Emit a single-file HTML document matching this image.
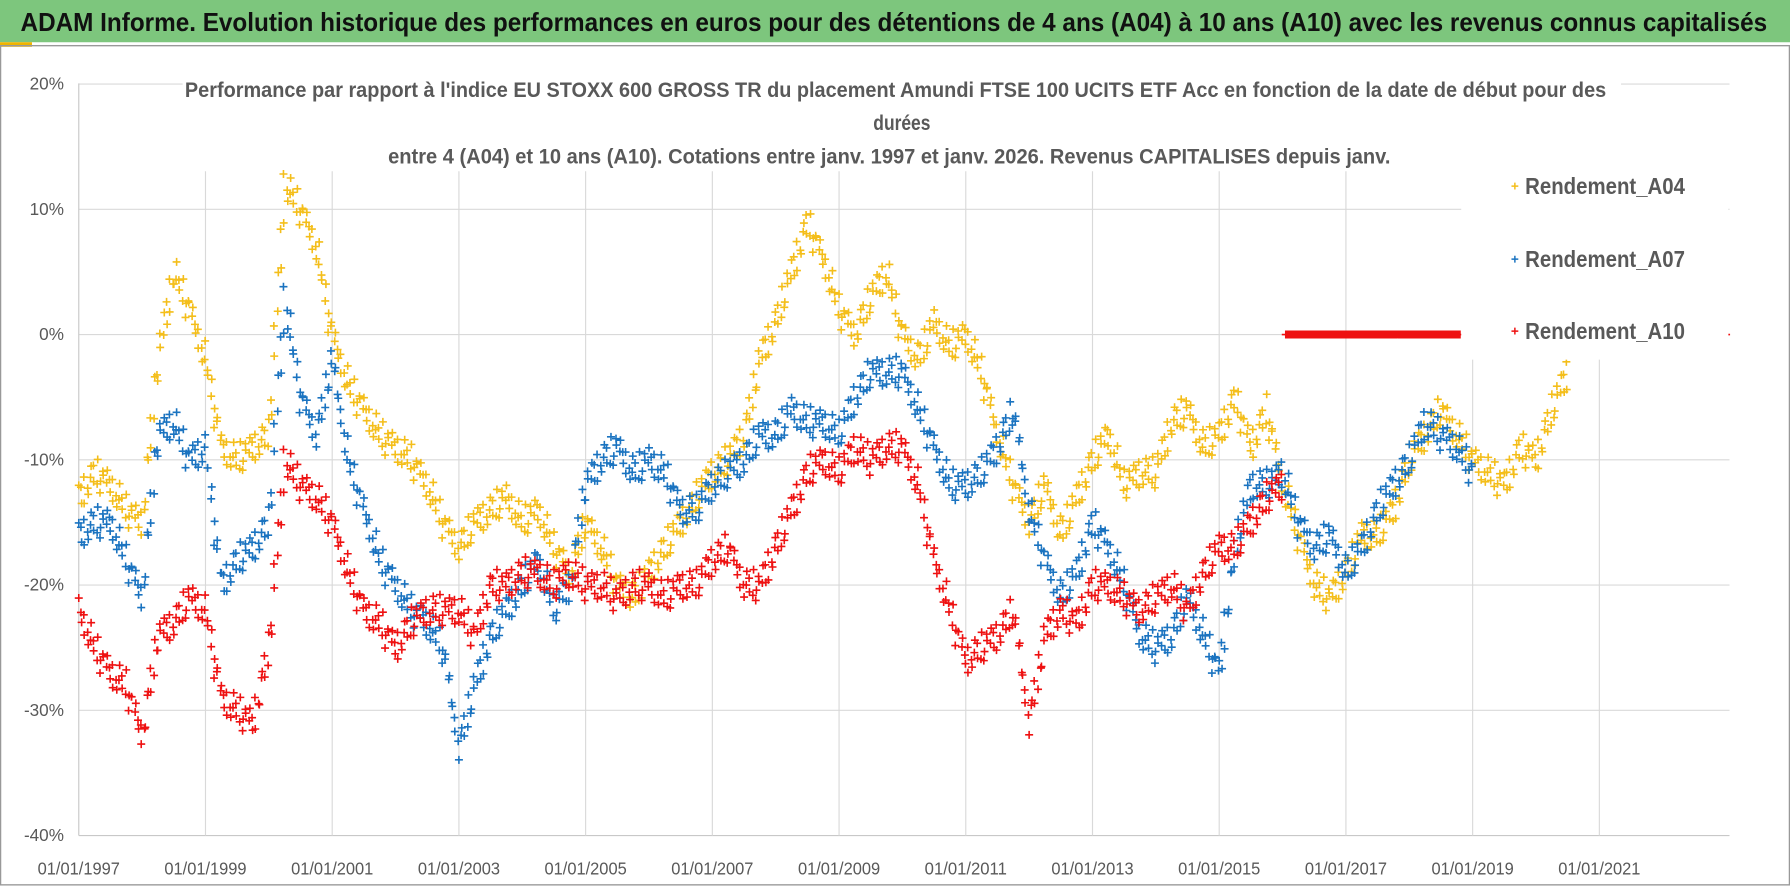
<!DOCTYPE html>
<html><head><meta charset="utf-8"><style>
html,body{margin:0;padding:0;background:#fff;}
svg{display:block;}
text{font-family:"Liberation Sans Narrow","Liberation Sans",sans-serif;}
</style></head><body>
<svg id="chart" width="1790" height="886" viewBox="0 0 1568 776" preserveAspectRatio="none" xmlns="http://www.w3.org/2000/svg">
<rect x="0" y="0" width="1568" height="776" fill="#fff"/>
<rect x="0" y="0" width="1568" height="37" fill="#7dc67d"/>
<text x="18" y="27" font-size="23" font-weight="bold" fill="#111" textLength="1530" lengthAdjust="spacingAndGlyphs">ADAM Informe. Evolution historique des performances en euros pour des détentions de 4 ans (A04) à 10 ans (A10) avec les revenus connus capitalisés</text>
<rect x="0" y="37" width="28" height="4" fill="#f0b400"/>
<rect x="0.5" y="40" width="1567" height="735" fill="none" stroke="#999" stroke-width="1.2"/>
<g id="grid"></g>
<g id="axes"></g>
<rect x="160" y="60" width="1260" height="90" fill="#fff"/>
<text x="162" y="85" font-size="19" font-weight="bold" fill="#595959" textLength="1245" lengthAdjust="spacingAndGlyphs">Performance par rapport à l'indice EU STOXX 600 GROSS TR  du placement Amundi FTSE 100 UCITS ETF Acc en fonction de la date de début pour des</text>
<text x="790" y="114" text-anchor="middle" font-size="19" font-weight="bold" fill="#595959" textLength="50" lengthAdjust="spacingAndGlyphs">durées</text>
<text x="340" y="143" font-size="19" font-weight="bold" fill="#595959" textLength="878" lengthAdjust="spacingAndGlyphs">entre 4 (A04) et 10 ans (A10).  Cotations entre janv. 1997 et janv. 2026. Revenus CAPITALISES depuis janv.</text>
<g id="marks"></g>
<rect x="1280" y="140" width="234" height="175" fill="#fff"/>
<g><path d="M1324 163h6M1327 160v6" stroke="#f4be1a" stroke-width="1.3"/><text x="1336" y="170" font-size="20" font-weight="bold" fill="#595959" textLength="140" lengthAdjust="spacingAndGlyphs">Rendement_A04</text></g>
<g><path d="M1324 227h6M1327 224v6" stroke="#1a73c0" stroke-width="1.3"/><text x="1336" y="234" font-size="20" font-weight="bold" fill="#595959" textLength="140" lengthAdjust="spacingAndGlyphs">Rendement_A07</text></g>
<g><path d="M1324 290h6M1327 287v6" stroke="#ee1111" stroke-width="1.3"/><text x="1336" y="297" font-size="20" font-weight="bold" fill="#595959" textLength="140" lengthAdjust="spacingAndGlyphs">Rendement_A10</text></g>
</svg>
<script>
const startYear = 1997.0;
const xTickYears = [1997,1999,2001,2003,2005,2007,2009,2011,2013,2015,2017,2019,2021];
const yTicks = [20,10,0,-10,-20,-30,-40];
const yTickLabels = ['20%','10%','0%','-10%','-20%','-30%','-40%'];
const a04Values = [-13,-11,-12,-14,-15,-2,5,2,-2,-9,-10,-9,-8,12,10,7,0,-4,-6,-8,-9,-10,-12,-15,-17,-15,-14,-13,-15,-14,-17,-19,-15,-17,-20,-21,-19,-17,-15,-13,-11,-10,-8,-2,1,5,9,6,2,0,3,5,0,-2,1,-1,0,-3,-8,-12,-15,-12,-16,-13,-10,-8,-12,-11,-11,-7,-6,-9,-8,-5,-9,-6,-12,-16,-20,-21,-19,-16,-16,-14,-10,-8,-6,-8,-10,-11,-12,-9,-10,-6,-3];
const a07Values = [-16,-15,-15,-18,-21,-8,-7,-10,-9,-20,-18,-17,-15,3,-5,-8,-2,-10,-14,-18,-20,-22,-23,-25,-33,-28,-24,-22,-20,-18,-22,-20,-12,-10,-9,-11,-10,-11,-14,-14,-12,-11,-10,-8,-8,-6,-7,-7,-8,-5,-3,-3,-3,-6,-9,-12,-12,-11,-9,-6,-14,-18,-21,-19,-15,-17,-20,-24,-25,-24,-21,-24,-27,-17,-12,-12,-11,-15,-17,-16,-19,-17,-14,-12,-10,-7,-8,-9,-11];
const a10Values = [-22,-25,-27,-28,-32,-24,-23,-21,-22,-29,-30,-31,-25,-10,-12,-13,-15,-19,-22,-23,-25,-23,-22,-22,-22,-24,-20,-20,-19,-19,-20,-19,-20,-20,-21,-20,-20,-21,-20,-20,-18,-17,-20,-20,-17,-14,-11,-10,-11,-9,-10,-9,-9,-12,-18,-22,-26,-25,-24,-22,-31,-24,-22,-23,-20,-20,-21,-22,-21,-20,-22,-19,-17,-17,-15,-13,-12];
const a10FlatStart = 2016.05;
const a10FlatValues = [0,0,0,0,0,0,0,0,0,0,0,0];
const a10LastYear = 2023.0;
const a10LastValue = 0;

const X0=69, PX_PER_YEAR=55.5, Y0=293, PX_PER_PCT=10.97;
function xs(y){return X0+(y-1997)*PX_PER_YEAR;}
function ys(v){return Y0-v*PX_PER_PCT;}
const NS='http://www.w3.org/2000/svg';
const grid=document.getElementById('grid'), axes=document.getElementById('axes'), marks=document.getElementById('marks');

yTicks.forEach((v,i)=>{
  const l=document.createElementNS(NS,'line');
  
  
  l.setAttribute('x1',X0);l.setAttribute('x2',1515);l.setAttribute('y1',ys(v));l.setAttribute('y2',ys(v));
  l.setAttribute('stroke',v===-40?'#c8c8c8':'#d9d9d9');l.setAttribute('stroke-width','1');
  grid.appendChild(l);
  const t=document.createElementNS(NS,'text');
  
  
  t.setAttribute('x',56);t.setAttribute('y',ys(v)+5);t.setAttribute('text-anchor','end');
  t.setAttribute('font-size','15');t.setAttribute('fill','#595959');
  t.textContent=yTickLabels[i];axes.appendChild(t);
});
xTickYears.forEach(yr=>{
  const l=document.createElementNS(NS,'line');
  
  
  l.setAttribute('x1',xs(yr));l.setAttribute('x2',xs(yr));l.setAttribute('y1',73);l.setAttribute('y2',ys(-40));
  l.setAttribute('stroke',yr===1997?'#c8c8c8':'#d9d9d9');l.setAttribute('stroke-width','1');
  grid.appendChild(l);
  const t=document.createElementNS(NS,'text');
  
  
  t.setAttribute('x',xs(yr));t.setAttribute('y',766);t.setAttribute('text-anchor','middle');
  t.setAttribute('font-size','15');t.setAttribute('fill','#595959');
  t.setAttribute('textLength','72');t.setAttribute('lengthAdjust','spacingAndGlyphs');
  t.textContent='01/01/'+yr;axes.appendChild(t);
});

const jit=[-7,5,-3,8,-6,2,7,-8,0,4,-4,6,-9,3,9,-2,-5,1];
const jx=[0,0.02,-0.015,0.01,-0.02,0.015];
function plus(x,y){return 'M'+(x-3.5).toFixed(1)+' '+y.toFixed(1)+'h7M'+x.toFixed(1)+' '+(y-3.5).toFixed(1)+'v7';}
function series(vals,start,step,color,name,spread,per){
  let d='';let k=0;
  for(let i=0;i<vals.length;i++){
    const v0=vals[i], v1=i+1<vals.length?vals[i+1]:vals[i];
    const n=i+1<vals.length?per:1;
    for(let j=0;j<n;j++){
      const f=j/per;
      const yr=start+(i+f)*step+(spread?jx[k%jx.length]:0), v=v0+(v1-v0)*f;
      d+=plus(xs(yr), ys(v)+jit[k%jit.length]*spread);k++;
    }
  }
  const p=document.createElementNS(NS,'path');
  
  
  p.setAttribute('d',d);p.setAttribute('stroke',color);p.setAttribute('stroke-width','1.4');p.setAttribute('fill','none');
  marks.appendChild(p);
}
series(a04Values,startYear,0.25,'#f4be1a','series-a04',1.5,10);
series(a07Values,startYear,0.25,'#1a73c0','series-a07',1.5,10);
series(a10Values,startYear,0.25,'#ee1111','series-a10',1.5,10);
series(a10FlatValues,a10FlatStart,0.25,'#ee1111','series-a10-flat',0,10);
series([a10LastValue],a10LastYear,0.25,'#ee1111','series-a10-last',0,1);
</script>
</body></html>
